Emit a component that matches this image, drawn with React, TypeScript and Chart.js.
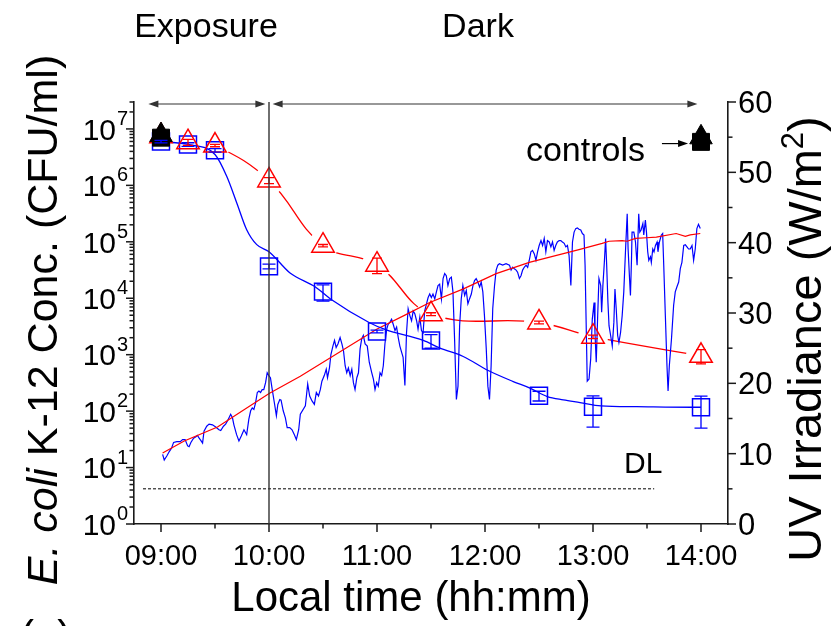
import React, { useEffect, useRef } from 'react';
import { Chart, registerables } from 'chart.js';

Chart.register(...registerables);

const BLUE = '#0000ff';
const RED = '#ff0000';
const INK = '#1a1a1a';
const FONT = '"Liberation Sans", Arial, Helvetica, sans-serif';

// Sampling schedule, minutes after midnight
const sampleTimes = [540, 555, 570, 600, 630, 660, 690, 750, 780, 840];

// E. coli K-12 concentrations (CFU/ml) with standard deviations
const ecoliBlue = [5.98e6, 5.29e6, 4.19e6, 3.67e4, 1.31e4, 2.58e3, 1.78e3, 188, 119, 117];
const ecoliBlueSd = [3e5, 4e5, 3e5, 3500, 4200, 150, 480, 37, 67, 67];
const ecoliRed = [7.4e6, 5.81e6, 5.08e6, 1.22e6, 8.55e4, 3.93e4, 5.23e3, 3.72e3, 2.08e3, 955];
const ecoliRedSd = [0, 7e5, 2.5e5, 1.5e5, 4e3, 1.2e4, 300, 200, 150, 270];

// Dark controls at start and end
const controlTimes = [540, 840];
const controlTriangle = [7.8e6, 7.1e6];
const controlSquare = [7.0e6, 5.9e6];

// Fitted decay curve
const fitTimes = [540, 555, 570, 576.5, 582.1, 587.6, 593.2, 600, 611.7, 625.6, 634.8, 655.6, 664.8, 685.7, 695, 707.9, 721.8, 735.7, 745, 754.6, 763.5, 772.8, 784.4, 804.3, 834.8, 840];
const fitBlue = [5.98e6, 5.3e6, 3.52e6, 1.45e6, 4.89e5, 1.64e5, 8.9e4, 6.69e4, 2.8e4, 1.6e4, 9.4e3, 3.72e3, 2.77e3, 1.79e3, 1.31e3, 929, 524, 334, 255, 181, 158, 142, 124, 120, 117, 117];

// Measured UV irradiance (W/m2)
const uvTime = [
  540.9, 541.8, 543.3, 544.6, 545.9, 547.0, 548.8, 550.7, 552.0, 553.4, 554.8, 555.6, 556.6, 558.1, 559.4, 560.3, 561.2, 562.1, 563.1, 563.9,
  565.4, 566.7, 568.6, 570.4, 572.2, 573.2, 574.7, 575.9, 577.2, 578.7, 579.7, 580.5, 582.0, 583.3, 584.6, 586.1, 587.6, 588.8, 589.8, 590.7,
  591.6, 592.5, 593.5, 594.4, 595.3, 596.2, 597.1, 598.1, 599.0, 599.9, 600.8, 601.8, 603.0, 604.1, 604.9, 606.0, 606.7, 607.9, 609.1, 610.1,
  611.5, 612.8, 614.1, 615.2, 616.5, 617.4, 620.2, 621.5, 622.6, 623.9, 625.2, 626.3, 627.5, 628.5, 629.4, 630.7, 631.8, 632.5, 633.6, 634.4,
  635.5, 636.4, 637.3, 638.3, 639.5, 640.5, 641.4, 642.3, 643.2, 644.1, 645.1, 646.0, 646.9, 647.8, 648.8, 649.7, 650.6, 651.5, 652.4, 653.4,
  654.6, 655.7, 657.1, 658.0, 658.9, 659.8, 660.7, 661.7, 662.6, 663.5, 664.4, 665.4, 666.2, 667.2, 668.1, 669.0, 670.0, 670.9, 671.8, 672.7,
  673.7, 674.5, 675.5, 676.4, 677.3, 678.3, 679.2, 680.1, 681.0, 682.0, 682.8, 683.8, 684.7, 685.6, 686.5, 687.5, 688.4, 689.3, 690.2, 691.1,
  692.1, 693.0, 693.9, 694.8, 695.8, 696.7, 697.6, 698.5, 699.4, 700.4, 701.3, 702.2, 703.1, 704.1, 705.0, 705.9, 706.8, 707.7, 708.7, 709.6,
  710.5, 711.4, 712.4, 713.3, 714.2, 715.1, 716.0, 717.0, 717.9, 718.8, 719.7, 720.7, 721.6, 722.5, 723.4, 724.3, 725.3, 726.2, 727.1, 728.0,
  729.8, 731.7, 733.6, 734.5, 735.4, 736.3, 737.3, 738.1, 739.1, 740.0, 740.9, 741.8, 742.8, 743.7, 744.6, 745.5, 746.4, 747.4, 748.3, 749.2,
  750.1, 751.1, 752.0, 752.9, 753.8, 754.7, 755.7, 756.6, 757.5, 758.4, 759.3, 760.2, 761.2, 762.1, 763.0, 764.0, 764.9, 765.8, 766.7, 767.7,
  768.6, 769.5, 770.4, 771.3, 772.2, 773.2, 774.1, 775.0, 775.6, 776.3, 776.8, 777.8, 778.7, 779.6, 780.6, 781.1, 781.8, 782.6, 783.3, 784.3,
  784.8, 785.5, 786.3, 787.0, 787.6, 788.3, 788.9, 789.8, 790.7, 791.6, 792.2, 792.9, 793.7, 794.4, 795.3, 796.2, 797.1, 798.1, 799.0, 799.5,
  800.3, 800.8, 801.4, 801.7, 802.7, 803.6, 804.5, 805.4, 806.0, 806.7, 807.7, 808.2, 809.1, 809.7, 810.4, 811.0, 811.9, 812.4, 813.2, 813.9,
  814.7, 815.6, 816.1, 816.9, 818.0, 818.7, 819.3, 820.2, 821.1, 821.7, 822.4, 823.6, 824.8, 825.7, 826.6, 827.6, 828.5, 829.4, 830.4, 831.3,
  832.2, 833.1, 834.0, 835.0, 835.9, 836.8, 837.7, 838.6, 839.6,
];
const uvMeasured = [
  9.9, 9.1, 9.7, 10.3, 10.8, 11.6, 11.7, 11.7, 12.0, 12.0, 11.1, 11.0, 11.6, 12.2, 12.4, 12.6, 12.2, 11.9, 11.5, 13.2,
  13.9, 14.2, 14.1, 13.8, 13.4, 13.3, 13.9, 14.2, 14.8, 15.6, 15.1, 14.1, 12.7, 11.8, 12.5, 13.4, 12.7, 14.9, 16.1, 16.5,
  16.3, 17.2, 18.7, 18.9, 18.7, 19.1, 19.1, 20.1, 21.5, 21.1, 20.8, 19.1, 17.2, 15.4, 17.0, 17.7, 17.6, 16.1, 15.1, 13.7,
  13.7, 13.4, 12.7, 12.0, 13.4, 15.6, 16.8, 19.9, 18.2, 17.5, 17.0, 18.7, 18.2, 19.1, 20.3, 21.1, 22.0, 20.8, 22.2, 24.1,
  25.3, 26.1, 25.1, 25.6, 26.5, 25.6, 24.6, 22.5, 21.5, 22.2, 21.1, 22.0, 20.1, 19.1, 20.8, 21.5, 24.9, 26.3, 26.8, 25.6,
  25.3, 23.0, 21.5, 20.6, 19.1, 20.1, 19.6, 21.5, 21.1, 22.5, 25.6, 27.7, 28.4, 28.7, 29.1, 28.4, 27.5, 28.0, 26.5, 25.3,
  24.4, 23.7, 19.7, 27.2, 30.6, 29.6, 28.9, 30.3, 29.9, 28.9, 27.7, 29.4, 27.5, 27.2, 30.3, 31.3, 32.2, 32.7, 32.2, 32.7,
  32.0, 33.0, 33.9, 34.1, 32.0, 34.9, 35.6, 35.3, 33.9, 34.9, 35.1, 33.0, 26.3, 17.7, 19.6, 28.2, 32.0, 33.9, 32.5, 33.2,
  31.3, 32.0, 32.7, 33.9, 34.6, 34.9, 34.4, 33.7, 34.4, 33.0, 29.6, 24.9, 19.6, 17.7, 22.5, 30.6, 33.9, 36.1, 36.8, 37.0,
  36.8, 37.0, 36.8, 36.1, 36.5, 36.3, 36.1, 35.8, 34.9, 35.3, 36.1, 36.5, 36.8, 36.5, 37.5, 38.7, 38.9, 38.4, 37.5, 38.7,
  39.6, 40.3, 39.6, 40.6, 38.7, 40.3, 40.1, 39.4, 40.1, 38.9, 39.6, 40.1, 40.3, 40.3, 40.1, 39.9, 39.4, 39.6, 38.2, 33.9,
  40.1, 41.5, 42.0, 42.1, 41.9, 41.8, 41.3, 41.1, 36.8, 27.2, 20.3, 20.6, 23.4, 29.1, 31.5, 27.2, 23.0, 29.6, 34.9, 33.9,
  30.1, 33.9, 37.2, 40.6, 36.8, 31.5, 28.2, 26.8, 25.3, 28.7, 33.4, 30.6, 26.8, 25.8, 27.2, 29.6, 33.0, 39.1, 44.1, 39.1,
  34.9, 32.5, 37.7, 41.5, 41.5, 40.1, 36.8, 44.1, 41.5, 41.8, 42.7, 41.1, 43.2, 41.5, 38.7, 37.5, 38.0, 37.2, 39.1, 38.7,
  39.6, 40.1, 38.7, 40.1, 41.1, 41.3, 36.8, 29.6, 22.5, 18.9, 22.5, 26.3, 31.1, 33.0, 33.7, 34.4, 36.3, 37.2, 39.6, 39.7,
  39.4, 39.1, 39.1, 39.6, 37.5, 39.1, 42.0, 42.6, 42.0,
];

// Clear-sky UV irradiance (W/m2)
const uvClearTime = [540.9, 552.9, 571.4, 585.9, 600.3, 617.4, 639.5, 659.8, 675.5, 689.3, 707.7, 726.2, 744.6, 763.0, 772.2, 785.1, 788.9, 796.2, 799.0, 803.6, 809.7, 815.2, 826.2, 831.3, 834.0, 839.6];
const uvClear = [10.1, 11.8, 13.8, 16.2, 18.6, 21.0, 24.5, 27.7, 29.7, 31.5, 33.4, 35.6, 37.2, 38.4, 39.0, 39.9, 40.2, 40.3, 40.2, 40.6, 40.7, 40.8, 41.3, 40.9, 41.1, 41.3];

// Detection limit (CFU/ml) and the span it is drawn over
const detectionLimit = 4.2;
const detectionSpan = [530, 814];

// Phases of the experiment
const lightsOff = 600;
const exposureSpan = [533, 598];
const darkSpan = [602, 838];
const phaseLabels = ['Exposure', 'Dark'];

// Axis ticks
const hourTicks = [540, 600, 660, 720, 780, 840];
const hourLabels = ['09:00', '10:00', '11:00', '12:00', '13:00', '14:00'];
const halfHourTicks = [570, 630, 690, 750, 810];
const decades = [0, 1, 2, 3, 4, 5, 6, 7];
const uvTicks = [0, 10, 20, 30, 40, 50, 60];
const uvMinorTicks = [5, 15, 25, 35, 45, 55];

const pts = (xs: number[], ys: number[]) => xs.map((x, i) => ({ x, y: ys[i] }));

function line(ctx: CanvasRenderingContext2D, x1: number, y1: number, x2: number, y2: number) {
  ctx.beginPath();
  ctx.moveTo(x1, y1);
  ctx.lineTo(x2, y2);
  ctx.stroke();
}

function arrowHead(ctx: CanvasRenderingContext2D, tipX: number, y: number, dir: number) {
  ctx.beginPath();
  ctx.moveTo(tipX, y);
  ctx.lineTo(tipX - dir * 10, y - 3.5);
  ctx.lineTo(tipX - dir * 10, y + 3.5);
  ctx.closePath();
  ctx.fill();
}

function errorBars(ctx: CanvasRenderingContext2D, xs: any, ys: any, vals: number[], sds: number[], color: string, cap: number) {
  ctx.strokeStyle = color;
  ctx.lineWidth = 1.3;
  sampleTimes.forEach((t, i) => {
    const sd = sds[i];
    if (!sd) return;
    const px = xs.getPixelForValue(t);
    const top = ys.getPixelForValue(vals[i] + sd);
    const bot = ys.getPixelForValue(Math.max(vals[i] - sd, 1));
    ctx.beginPath();
    ctx.moveTo(px, top);
    ctx.lineTo(px, bot);
    ctx.moveTo(px - cap, top);
    ctx.lineTo(px + cap, top);
    ctx.moveTo(px - cap, bot);
    ctx.lineTo(px + cap, bot);
    ctx.stroke();
  });
}

const decorations = {
  id: 'decorations',
  afterDatasetsDraw(chart: any) {
    const { ctx, chartArea: a, scales } = chart;
    const xs = scales.x;
    const yl = scales.yLog;
    ctx.save();
    errorBars(ctx, xs, yl, ecoliBlue, ecoliBlueSd, BLUE, 6.5);
    errorBars(ctx, xs, yl, ecoliRed, ecoliRedSd, RED, 5);

    // lights off at 10:00
    ctx.strokeStyle = '#333';
    ctx.lineWidth = 1.4;
    const xv = xs.getPixelForValue(lightsOff);
    line(ctx, xv, a.top, xv, a.bottom);
    ctx.restore();
  },
  afterDraw(chart: any) {
    const { ctx, chartArea: a, scales } = chart;
    const xs = scales.x;
    const yl = scales.yLog;
    const yr = scales.yUv;
    ctx.save();
    ctx.strokeStyle = INK;
    ctx.fillStyle = INK;
    ctx.lineWidth = 1.5;

    // tick marks
    hourTicks.forEach((t) => { const x = xs.getPixelForValue(t); line(ctx, x, a.bottom, x, a.bottom + 8); });
    halfHourTicks.forEach((t) => { const x = xs.getPixelForValue(t); line(ctx, x, a.bottom, x, a.bottom + 4.5); });
    decades.forEach((n) => {
      const y = yl.getPixelForValue(Math.pow(10, n));
      line(ctx, a.left - 8, y, a.left, y);
      for (let m = 2; m <= 9; m++) {
        const v = m * Math.pow(10, n);
        if (v > yl.max) break;
        const ym = yl.getPixelForValue(v);
        line(ctx, a.left - 4.5, ym, a.left, ym);
      }
    });
    uvTicks.forEach((v) => { const y = yr.getPixelForValue(v); line(ctx, a.right, y, a.right + 8, y); });
    uvMinorTicks.forEach((v) => { const y = yr.getPixelForValue(v); line(ctx, a.right, y, a.right + 4.5, y); });

    ctx.fillStyle = '#000';
    ctx.textBaseline = 'alphabetic';

    // x tick labels
    ctx.font = `29px ${FONT}`;
    ctx.textAlign = 'center';
    hourTicks.forEach((t, i) => ctx.fillText(hourLabels[i], xs.getPixelForValue(t), a.bottom + 41));

    // left tick labels: 10^n
    decades.forEach((n) => {
      const y = yl.getPixelForValue(Math.pow(10, n));
      ctx.font = `30px ${FONT}`;
      ctx.textAlign = 'right';
      ctx.fillText('10', a.left - 18, y + 10.7);
      ctx.font = `20px ${FONT}`;
      ctx.textAlign = 'left';
      ctx.fillText(String(n), a.left - 17, y - 4);
    });

    // right tick labels
    ctx.font = `31px ${FONT}`;
    ctx.textAlign = 'left';
    uvTicks.forEach((v) => ctx.fillText(String(v), a.right + 10, yr.getPixelForValue(v) + 11));

    // axis titles
    ctx.font = `42px ${FONT}`;
    ctx.textAlign = 'center';
    ctx.fillText('Local time (hh:mm)', 411, 611);

    // left title, E. coli in italics
    {
      ctx.save();
      ctx.translate(57, 320);
      ctx.rotate(-Math.PI / 2);
      const italic = `italic 43px ${FONT}`;
      const upright = `43px ${FONT}`;
      const p1 = 'E. coli';
      const p2 = ' K-12 Conc. (CFU/ml)';
      ctx.font = italic;
      const w1 = ctx.measureText(p1).width;
      ctx.font = upright;
      const w2 = ctx.measureText(p2).width;
      const x0 = -(w1 + w2) / 2;
      ctx.textAlign = 'left';
      ctx.font = italic;
      ctx.fillText(p1, x0, 0);
      ctx.font = upright;
      ctx.fillText(p2, x0 + w1, 0);
      ctx.restore();
    }

    // right title with superscript
    {
      ctx.save();
      ctx.translate(821, 339);
      ctx.rotate(-Math.PI / 2);
      const main = 'UV Irradiance (W/m';
      ctx.font = `47px ${FONT}`;
      const w1 = ctx.measureText(main).width;
      ctx.font = `31px ${FONT}`;
      const w2 = ctx.measureText('2').width;
      ctx.font = `47px ${FONT}`;
      const w3 = ctx.measureText(')').width;
      const x0 = -(w1 + w2 + w3) / 2;
      ctx.textAlign = 'left';
      ctx.fillText(main, x0, 0);
      ctx.font = `31px ${FONT}`;
      ctx.fillText('2', x0 + w1, -18);
      ctx.font = `47px ${FONT}`;
      ctx.fillText(')', x0 + w1 + w2, 0);
      ctx.restore();
    }

    // phase arrows and labels
    ctx.strokeStyle = '#333';
    ctx.fillStyle = '#333';
    ctx.lineWidth = 1.2;
    const ay = a.top + 2;
    [exposureSpan, darkSpan].forEach(([s, e]) => {
      const x1 = xs.getPixelForValue(s);
      const x2 = xs.getPixelForValue(e);
      line(ctx, x1 + 4, ay, x2 - 4, ay);
      arrowHead(ctx, x1, ay, -1);
      arrowHead(ctx, x2, ay, 1);
    });
    ctx.fillStyle = '#000';
    ctx.font = `34px ${FONT}`;
    ctx.textAlign = 'center';
    ctx.fillText(phaseLabels[0], 206, 37);
    ctx.fillText(phaseLabels[1], 478, 37);

    // controls pointer
    const cx1 = xs.getPixelForValue(818.3);
    const cx2 = xs.getPixelForValue(832.8);
    const cy = yl.getPixelForValue(5.5e6);
    ctx.strokeStyle = '#000';
    ctx.fillStyle = '#000';
    ctx.lineWidth = 1.2;
    line(ctx, cx1, cy, cx2 - 6, cy);
    arrowHead(ctx, cx2, cy, 1);
    ctx.font = `34px ${FONT}`;
    ctx.textAlign = 'right';
    ctx.fillText('controls', cx1 - 17, cy + 17);

    // detection limit label
    ctx.font = `30px ${FONT}`;
    ctx.textAlign = 'left';
    ctx.fillText('DL', 624, 473);

    // panel letter (mostly below the visible area)
    ctx.font = `42px ${FONT}`;
    ctx.fillText('(a)', 20, 650);
    ctx.restore();
  },
};

export default function App() {
  const ref = useRef<HTMLCanvasElement>(null);

  useEffect(() => {
    const canvas = ref.current;
    if (!canvas) return;
    const base = { pointRadius: 0, pointHoverRadius: 0, fill: false };
    const chart = new Chart(canvas, {
      type: 'line',
      data: {
        datasets: [
          {
            ...base, label: 'red spline', data: pts(sampleTimes, ecoliRed), yAxisID: 'yLog',
            borderColor: RED, borderWidth: 1.3, tension: 0.4, order: 20,
          },
          {
            label: 'gap', data: pts(sampleTimes, ecoliRed), yAxisID: 'yLog', showLine: false,
            pointStyle: 'circle', pointRadius: 15, pointHoverRadius: 15, pointBackgroundColor: '#fff',
            pointBorderColor: '#fff', pointBorderWidth: 0, order: 19,
          },
          {
            ...base, label: 'UV measured', data: pts(uvTime, uvMeasured), yAxisID: 'yUv',
            borderColor: BLUE, borderWidth: 1.2, tension: 0, order: 18,
          },
          {
            ...base, label: 'UV clear sky', data: pts(uvClearTime, uvClear), yAxisID: 'yUv',
            borderColor: RED, borderWidth: 1.2, tension: 0, order: 17,
          },
          {
            ...base, label: 'fit', data: pts(fitTimes, fitBlue), yAxisID: 'yLog',
            borderColor: BLUE, borderWidth: 1.3, cubicInterpolationMode: 'monotone', order: 16,
          },
          {
            ...base, label: 'DL', data: pts(detectionSpan, [detectionLimit, detectionLimit]), yAxisID: 'yLog',
            borderColor: '#000', borderWidth: 1, borderDash: [3, 2], order: 15,
          },
          {
            label: 'blue samples', data: pts(sampleTimes, ecoliBlue), yAxisID: 'yLog', showLine: false,
            pointStyle: 'rect', pointRadius: 12, pointHoverRadius: 12, pointBorderColor: BLUE,
            pointBackgroundColor: 'rgba(0,0,0,0)', pointBorderWidth: 1.5, order: 14,
          },
          {
            label: 'red samples', data: pts(sampleTimes, ecoliRed), yAxisID: 'yLog', showLine: false,
            pointStyle: 'triangle', pointRadius: 13, pointHoverRadius: 13, pointBorderColor: RED,
            pointBackgroundColor: 'rgba(0,0,0,0)', pointBorderWidth: 1.5, order: 13,
          },
          {
            label: 'control squares', data: pts(controlTimes, controlSquare), yAxisID: 'yLog', showLine: false,
            pointStyle: 'rect', pointRadius: 12, pointHoverRadius: 12, pointBorderColor: '#000',
            pointBackgroundColor: '#000', pointBorderWidth: 1, order: 12,
          },
          {
            label: 'control triangles', data: pts(controlTimes, controlTriangle), yAxisID: 'yLog', showLine: false,
            pointStyle: 'triangle', pointRadius: 13, pointHoverRadius: 13, pointBorderColor: '#000',
            pointBackgroundColor: '#000', pointBorderWidth: 1, order: 11,
          },
        ] as any,
      },
      options: {
        responsive: false,
        maintainAspectRatio: false,
        animation: false,
        devicePixelRatio: 1,
        events: [],
        layout: { padding: { left: 134, right: 107, top: 102, bottom: 102 } },
        plugins: { legend: { display: false }, tooltip: { enabled: false } },
        scales: {
          x: {
            type: 'linear', min: 525, max: 855,
            grid: { display: false, drawTicks: false },
            ticks: { display: false },
            border: { display: true, color: INK, width: 1.6 },
          },
          yLog: {
            type: 'logarithmic', position: 'left', min: 1, max: 3e7,
            grid: { display: false, drawTicks: false },
            ticks: { display: false },
            border: { display: true, color: INK, width: 1.6 },
          },
          yUv: {
            type: 'linear', position: 'right', min: 0, max: 60,
            grid: { display: false, drawTicks: false },
            ticks: { display: false },
            border: { display: true, color: INK, width: 1.6 },
          },
        },
      } as any,
      plugins: [decorations],
    });
    return () => chart.destroy();
  }, []);

  return (
    <div style={{ position: 'fixed', left: 0, top: 0, width: 835, height: 626, background: '#fff' }}>
      <canvas ref={ref} width={835} height={626} style={{ display: 'block' }} />
    </div>
  );
}
